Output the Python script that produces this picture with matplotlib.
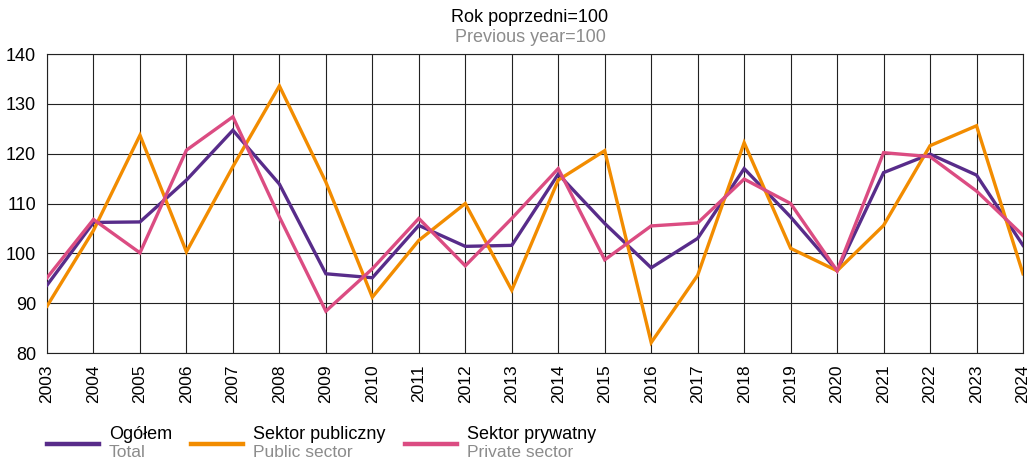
import numpy as np
import matplotlib.pyplot as plt
from matplotlib.lines import Line2D

plt.rcParams["font.family"] = ["Liberation Sans", "DejaVu Sans"]

years = list(range(2003, 2025))

# Rok poprzedni = 100
total = [93.6, 106.2, 106.3, 114.7, 124.7, 113.9, 95.9, 95.1, 105.6, 101.4, 101.6,
         115.9, 106.0, 97.1, 103.0, 117.0, 107.3, 96.5, 116.2, 119.9, 115.7, 101.6]
public = [89.4, 104.6, 123.7, 100.3, 117.4, 133.6, 114.3, 91.2, 102.6, 110.0, 92.6,
          114.7, 120.6, 82.1, 95.6, 122.2, 101.0, 96.5, 105.6, 121.6, 125.6, 95.9]
private = [95.1, 106.8, 100.1, 120.7, 127.4, 107.3, 88.4, 96.9, 107.0, 97.5, 107.0,
           117.0, 98.7, 105.5, 106.1, 114.9, 110.0, 96.5, 120.2, 119.4, 112.5, 103.6]

labels_pl = ["Ogółem", "Sektor publiczny", "Sektor prywatny"]
labels_en = ["Total", "Public sector", "Private sector"]
colors = ["#582c8a", "#f28c00", "#db4c82"]

W, H = 1031, 461
fig = plt.figure(figsize=(W / 100, H / 100), dpi=100)
ax = fig.add_axes([47 / W, 1 - 353 / H, (1023 - 47) / W, (353 - 54) / H])

for series, c in zip([total, public, private], colors):
    ax.plot(years, series, color=c, lw=2.4, solid_joinstyle="miter", zorder=3)

ax.set_xlim(2003, 2024)
ax.set_ylim(80, 140)
ax.set_xticks(years)
ax.set_xticklabels([str(y) for y in years], rotation=90, fontsize=12.5)
ax.set_yticks(np.arange(80, 141, 10))
ax.tick_params(axis="y", labelsize=13, length=0, pad=8)
ax.tick_params(axis="x", length=0, pad=8)
ax.grid(True, color="#222222", lw=0.8)
for s in ax.spines.values():
    s.set_color("#222222")
    s.set_linewidth(0.8)

fig.text(530 / W, 1 - 17 / H, "Rok poprzedni=100", ha="center", va="center",
         fontsize=13, color="black")
fig.text(530 / W, 1 - 38 / H, "Previous year=100", ha="center", va="center",
         fontsize=13, color="#8c8c8c")

# legend drawn by hand: handle + Polish label + grey English label
handle_x = [47, 191, 405]
for x0, c, pl, en in zip(handle_x, colors, labels_pl, labels_en):
    fig.add_artist(Line2D([x0 / W, (x0 + 52) / W], [1 - 444 / H, 1 - 444 / H],
                          color=c, lw=3.2, transform=fig.transFigure))
    fig.text((x0 + 62) / W, 1 - 434 / H, pl, ha="left", va="center",
             fontsize=13, color="black")
    fig.text((x0 + 62) / W, 1 - 452 / H, en, ha="left", va="center",
             fontsize=12.5, color="#8c8c8c")

fig.savefig("out.png", dpi=100)
